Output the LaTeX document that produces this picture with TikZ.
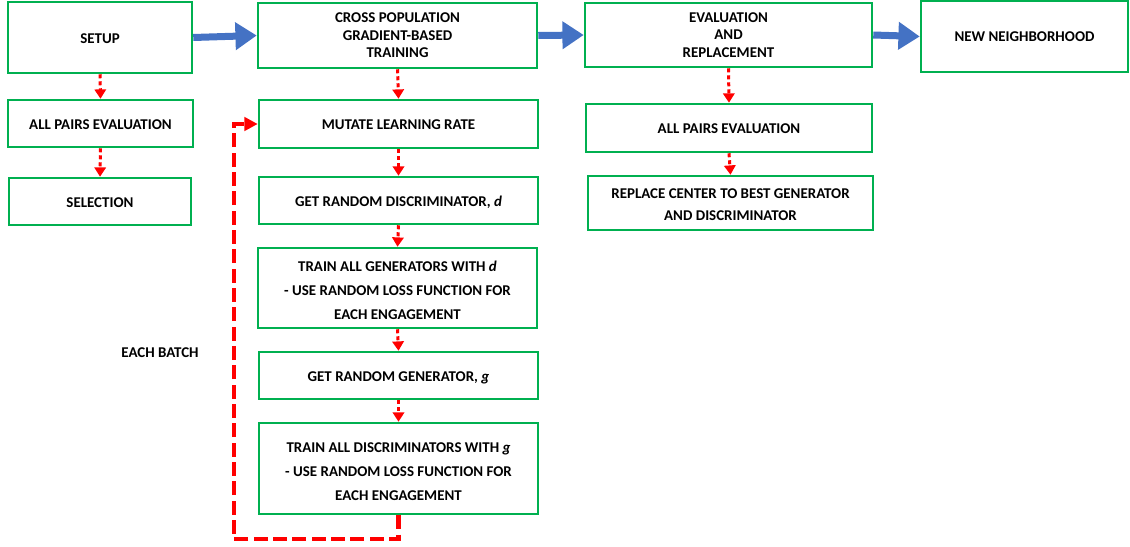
\documentclass[tikz,border=0pt]{standalone}
\usepackage{fontspec}
\setmainfont{Carlito}
\usetikzlibrary{arrows.meta}
\definecolor{boxgreen}{HTML}{00B050}
\definecolor{arrowblue}{HTML}{4472C4}
\definecolor{loopred}{HTML}{FF0000}
% lines of a box, lowered a little inside the box
\newcommand\boxtext[2][-1.5pt]{\raisebox{#1}[\height][\depth]{\begin{tabular}{@{}c@{}}#2\end{tabular}}}
\begin{document}
\begin{tikzpicture}[x=0.75pt,y=-0.75pt,
  box/.style 2 args={draw=boxgreen, line width=1.9pt, fill=white,
    minimum width=#1*0.75pt, minimum height=#2*0.75pt, inner sep=0pt,
    font=\fontsize{11.2}{13.2}\selectfont\bfseries},
  widelines/.style={font=\fontsize{11.2}{18}\selectfont\bfseries},
  midlines/.style={font=\fontsize{11.2}{16.5}\selectfont\bfseries},
  bluearrow/.style={draw=arrowblue, line width=5.25pt,
    -{Triangle[length=16pt,width=20pt]}},
  dotarrow/.style={draw=loopred, line width=2.25pt, dash pattern=on 3pt off 2.25pt,
    -{Triangle[length=7pt,width=8.5pt]}},
  looparrow/.style={draw=loopred, line width=3.4pt, dash pattern=on 10.5pt off 4pt,
    -{Triangle[length=10pt,width=10pt]}},
  lbl/.style={font=\fontsize{11.2}{13}\selectfont\bfseries, inner sep=0pt}
]
\useasboundingbox (0,0) rectangle (1130,546);

% left column
\node[box={184}{71}] (setup) at (100,37.5) {\boxtext{SETUP}};
\node[box={185}{47}] (apl) at (100.5,123.5) {\boxtext[-1.9pt]{ALL PAIRS EVALUATION}};
\node[box={182}{47}] (sel) at (100,201.5) {\boxtext{SELECTION}};

% middle column
\node[box={279}{65}] (cross) at (397.5,35.5) {\boxtext[-1pt]{CROSS POPULATION\\GRADIENT-BASED\\TRAINING}};
\node[box={279}{48}] (mut) at (398.5,124) {\boxtext{MUTATE LEARNING RATE}};
\node[box={279}{47}] (grd) at (398.5,200.5) {\boxtext{GET RANDOM DISCRIMINATOR, \textit{d}}};
\node[box={279}{80}, widelines] (tag) at (397.5,288) {\boxtext[-2.2pt]{TRAIN ALL GENERATORS WITH \textit{d}\\- USE RANDOM LOSS FUNCTION FOR\\EACH ENGAGEMENT}};
\node[box={279}{47}] (grg) at (398.5,375.5) {\boxtext[-1.9pt]{GET RANDOM GENERATOR, \textit{g}}};
\node[box={279}{91}, widelines] (tad) at (398.5,468.5) {\boxtext[-2.2pt]{TRAIN ALL DISCRIMINATORS WITH \textit{g}\\- USE RANDOM LOSS FUNCTION FOR\\EACH ENGAGEMENT}};

% right column
\node[box={287}{64}] (eval) at (728.5,35) {\boxtext[-1pt]{EVALUATION\\AND\\REPLACEMENT}};
\node[box={286}{48}] (apr) at (729,128) {\boxtext{ALL PAIRS EVALUATION}};
\node[box={285}{54}, midlines] (rep) at (730.5,203) {\boxtext[-1.3pt]{REPLACE CENTER TO BEST GENERATOR\\AND DISCRIMINATOR}};
\node[box={207}{71}] (nn) at (1024.5,36.5) {\boxtext[-1.3pt]{NEW NEIGHBORHOOD}};

\node[lbl] (batch) at (160,353) {EACH BATCH};

% blue arrows
\draw[bluearrow] (setup.east) -- (cross.west);
\draw[bluearrow] (cross.east) -- (eval.west);
\draw[bluearrow] (eval.east) -- (nn.west);

% red dotted arrows
\draw[dotarrow] (setup.south) -- (apl.north);
\draw[dotarrow] (apl.south) -- (sel.north);
\draw[dotarrow] (cross.south) -- (mut.north);
\draw[dotarrow] (mut.south) -- (grd.north);
\draw[dotarrow] (grd.south) -- (tag.north);
\draw[dotarrow] (tag.south) -- (grg.north);
\draw[dotarrow] (grg.south) -- (tad.north);
\draw[dotarrow] (eval.south) -- (apr.north);
\draw[dotarrow] (apr.south) -- (rep.north);

% loop
\coordinate (lb) at (234,539);
\coordinate (lt) at (234,124);
\draw[looparrow] (tad.south) -- (tad.south |- lb) -- (lb) -- (lt) -- (mut.west);
\end{tikzpicture}
\end{document}
